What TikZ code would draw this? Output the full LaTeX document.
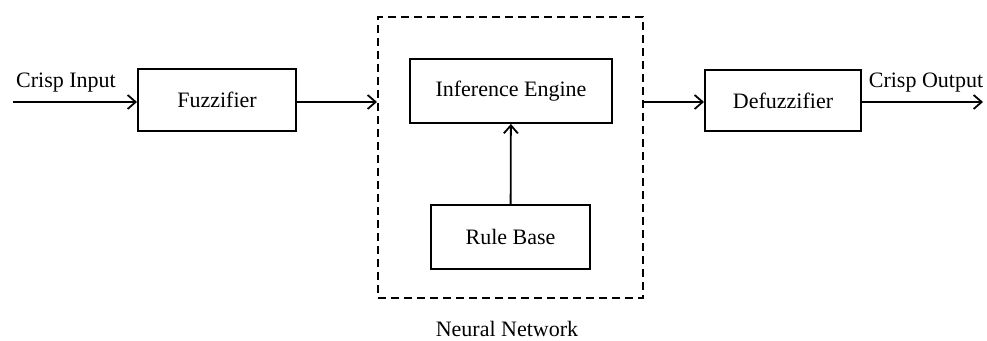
\documentclass[tikz,border=0pt]{standalone}
\usepackage{fontspec}
\setmainfont{Liberation Serif}
\usetikzlibrary{arrows.meta}
\tikzstyle{block}=[draw,rectangle,line width=1pt,inner sep=0pt,font=\fontsize{11}{13}\selectfont]
\tikzstyle{lbl}=[inner sep=0pt,font=\fontsize{11}{13}\selectfont]
\tikzstyle{conn}=[-{Straight Barb[length=4pt,width=7pt,line width=0.9pt]},line width=0.9pt]

\begin{document}
\begin{tikzpicture}[x=0.5pt,y=0.5pt]
    \useasboundingbox (0,0) rectangle (987,341);
    \node[block,minimum width=79pt,minimum height=31pt] (fuzz) at (217,241) {Fuzzifier};
    \node[draw,dash pattern=on 4pt off 2.5pt,line width=1pt,minimum width=132.5pt,minimum height=140.5pt,inner sep=0pt] (nn) at (510.5,183.5) {};
    \node[block,minimum width=101pt,minimum height=32pt] (infer) at (511,250) {Inference Engine};
    \node[block,minimum width=79.5pt,minimum height=32pt] (rule) at (510.5,104) {Rule Base};
    \node[block,minimum width=78pt,minimum height=30.5pt] (defuzz) at (783,240.5) {Defuzzifier};
    \node[lbl] (cin) at (66,258) {Crisp Input};
    \node[lbl] (cout) at (926,258) {Crisp Output};
    \node[lbl] (nnlbl) at (507,12) {Neural Network};
    \coordinate (in) at (13,239);
    \coordinate (out) at (983,239);

    \draw[conn] (in) -- (in -| fuzz.west);
    \draw[conn] (in -| fuzz.east) -- (in -| nn.west);
    \draw[conn] (rule) -- (infer);
    \draw[conn] (in -| nn.east) -- (in -| defuzz.west);
    \draw[conn] (in -| defuzz.east) -- (out);
\end{tikzpicture}
\end{document}
